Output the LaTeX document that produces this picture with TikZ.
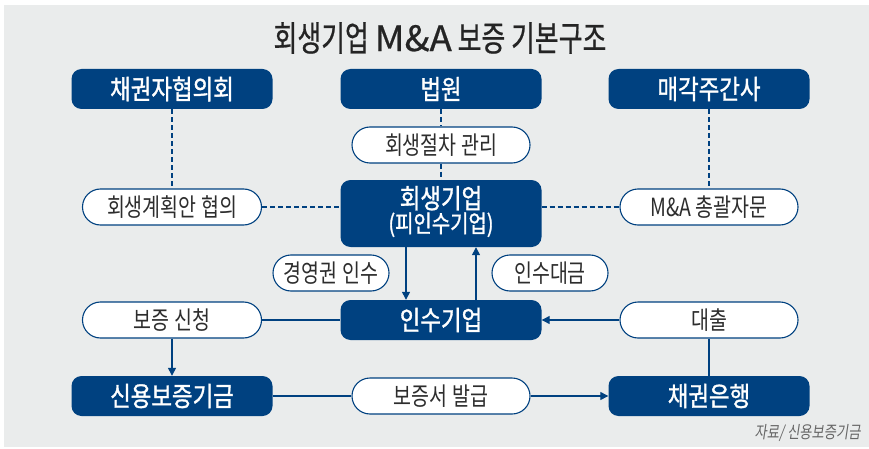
\documentclass[tikz,border=0pt]{standalone}
\usepackage{fontspec}
\setmainfont{Noto Sans CJK KR}[FakeStretch=0.78]
\newfontfamily\navyfont{Noto Sans CJK KR}[FakeStretch=0.83,FakeBold=1.2]
\newfontfamily\titlefont{Noto Sans CJK KR}[FakeStretch=0.74,FakeBold=0.6]
\newfontfamily\latinfont{Noto Sans CJK KR}[FakeStretch=1.05,FakeBold=0.6]
\newfontfamily\srcfont{Noto Sans CJK KR}[FakeStretch=0.78,FakeSlant=0.15]
\usetikzlibrary{arrows.meta}
\definecolor{navy}{RGB}{0,65,128}
\definecolor{bg}{RGB}{234,236,236}
\definecolor{txt}{RGB}{45,45,45}
\tikzset{
  navybox/.style={fill=navy, text=white, rounded corners=10pt, minimum width=201pt, minimum height=40pt, inner sep=0pt, font=\fontsize{27}{29}\navyfont},
  pill/.style={fill=white, draw=navy, line width=1.1pt, rounded corners=18pt, minimum height=36pt, inner sep=0pt, text=txt, font=\fontsize{25}{27}\selectfont},
  dash line/.style={draw=navy, line width=1.1pt, dash pattern=on 5pt off 3pt},
  conn/.style={draw=navy, line width=1.3pt},
  arr/.style={conn, -{Triangle[length=8pt,width=8pt]}}
}
\begin{document}
\begin{tikzpicture}[x=1pt,y=-1pt]
\useasboundingbox (0,0) rectangle (869,449);
\fill[white] (0,0) rectangle (869,449);
\fill[bg] (4,5) rectangle (869,447);

\node[text=txt!80!black, font=\fontsize{35}{38}\titlefont] (title) at (440,38) {회생기업 {\latinfont M\&A} 보증 기본구조};

\node[navybox] (cr) at (172,89) {채권자협의회};
\node[navybox] (court) at (441,89) {법원};
\node[navybox] (adv) at (709,89) {매각주간사};

\node[pill, minimum width=178pt] (proc) at (441,145) {회생절차 관리};
\node[pill, minimum width=179pt] (plan) at (172,207) {회생계획안 협의};
\node[navybox, minimum height=67pt] (rh) at (441,213.5) {\begin{tabular}{@{}c@{}}회생기업\\[-5pt]{\fontsize{24}{26}\selectfont(피인수기업)}\end{tabular}};
\node[pill, minimum width=178pt] (mna) at (709,207) {M\&A 총괄자문};

\node[pill, minimum width=116pt] (mgmt) at (331,273) {경영권 인수};
\node[pill, minimum width=116pt] (pay) at (550,273) {인수대금};

\node[pill, minimum width=179pt] (apply) at (172,320) {보증 신청};
\node[navybox] (acq) at (441,320) {인수기업};
\node[pill, minimum width=178pt] (loan) at (709,320) {대출};

\node[navybox] (kodit) at (172,396) {신용보증기금};
\node[pill, minimum width=178pt] (issue) at (441,396) {보증서 발급};
\node[navybox] (bank) at (709,396) {채권은행};

\node[anchor=east, text=gray!80!black, font=\fontsize{17}{19}\srcfont] (src) at (864,433) {자료/ 신용보증기금};

% dashed links
\draw[dash line] (cr.south) -- (plan.north);
\draw[dash line] (court.south) -- (proc.north);
\draw[dash line] (proc.south) -- (rh.north);
\draw[dash line] (adv.south) -- (mna.north);
\draw[dash line] (plan.east) -- (rh.west |- plan.east);
\draw[dash line] (rh.east |- mna.west) -- (mna.west);

% solid links
\draw[arr] ([xshift=-35pt]rh.south) -- ([xshift=-35pt]acq.north);
\draw[arr] ([xshift=35pt]acq.north) -- ([xshift=35pt]rh.south);
\draw[conn] (apply.east) -- (acq.west);
\draw[arr] (apply.south) -- (kodit.north);
\draw[conn] (kodit.east) -- (issue.west);
\draw[arr] (issue.east) -- (bank.west);
\draw[arr] (loan.west) -- (acq.east);
\draw[conn] (loan.south) -- (bank.north);
\end{tikzpicture}
\end{document}
